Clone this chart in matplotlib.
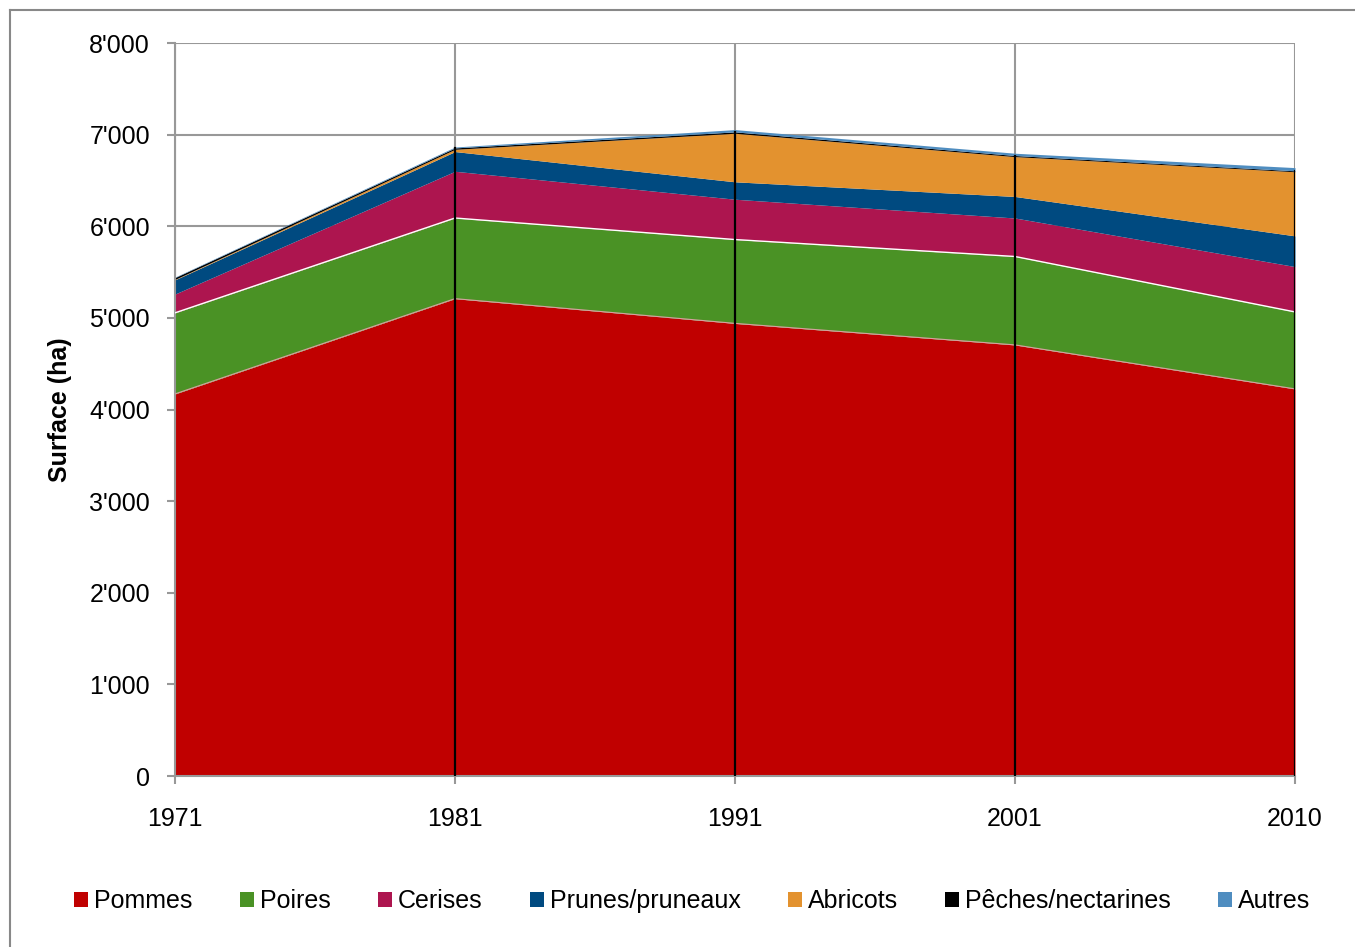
import matplotlib
matplotlib.use('Agg')
import matplotlib.pyplot as plt
import numpy as np
from matplotlib.patches import Patch
from matplotlib.lines import Line2D
from matplotlib.ticker import FuncFormatter

plt.rcParams['font.family'] = ['Liberation Sans', 'DejaVu Sans']

# surface (ha) per fruit type
YEARS = ['1971', '1981', '1991', '2001', '2010']
POMMES = [4170, 5210, 4940, 4705, 4225]
POIRES = [885, 880, 915, 965, 840]
CERISES = [205, 510, 440, 420, 495]
PRUNES = [155, 215, 190, 235, 335]
ABRICOTS = [5, 25, 530, 435, 700]
PECHES = [20, 15, 15, 12, 10]
AUTRES = [5, 10, 25, 25, 35]

NAMES = ['Pommes', 'Poires', 'Cerises', 'Prunes/pruneaux', 'Abricots',
         'Pêches/nectarines', 'Autres']
COLORS = ['#C00000', '#4A9225', '#AD154F', '#004A80', '#E3922F', '#000000', '#4F8DC0']
SERIES = [POMMES, POIRES, CERISES, PRUNES, ABRICOTS, PECHES, AUTRES]

GRID = '#989898'

fig = plt.figure(figsize=(13.55, 9.47), dpi=100)
ax = fig.add_axes([175 / 1355, 1 - 776 / 947, 1120 / 1355, 733 / 947])

x = np.arange(len(YEARS))
stack = np.cumsum(np.array(SERIES, dtype=float), axis=0)
base = np.zeros(len(YEARS))
for i, top in enumerate(stack):
    ax.fill_between(x, base, top, color=COLORS[i], lw=0, zorder=2)
    base = top

# thin separators seen in the original
ax.plot(x, stack[0], color='#D8A0A0', lw=0.8, zorder=3)
ax.plot(x, stack[1], color='white', lw=1.0, zorder=3)

# drop lines
for xi in x[1:]:
    ax.plot([xi, xi], [0, stack[-2][xi]], color='black', lw=1.6, zorder=4)

ax.set_xlim(0, len(YEARS) - 1)
ax.set_ylim(0, 8000)
ax.set_xticks(x)
ax.set_xticklabels(YEARS)
ax.set_yticks(np.arange(0, 8001, 1000))
ax.yaxis.set_major_formatter(FuncFormatter(lambda v, p: '{:,.0f}'.format(v).replace(',', "'")))

ax.grid(True, color=GRID, lw=1.5, zorder=1)
ax.set_axisbelow(True)
for s in ['top', 'right']:
    ax.spines[s].set_visible(False)
for s in ['left', 'bottom']:
    ax.spines[s].set_color(GRID)
    ax.spines[s].set_linewidth(1.5)

ax.tick_params(axis='y', colors=GRID, labelcolor='black', labelsize=18, length=6, width=1.5, pad=12)
ax.tick_params(axis='x', colors=GRID, labelcolor='black', labelsize=18, length=6, width=1.5, pad=16)

ax.set_ylabel('Surface (ha)', fontsize=18, fontweight='bold')
ax.yaxis.set_label_coords(-0.092, 0.5)

handles = [Patch(facecolor=c, edgecolor='none') for c in COLORS]
fig.legend(handles, NAMES, loc='center', bbox_to_anchor=(0.511, 1 - 901 / 947),
           ncol=7, frameon=False, fontsize=18, handlelength=0.56, handleheight=0.56,
           handletextpad=0.25, columnspacing=1.88, borderaxespad=0)

# outer chart border (top and left visible)
fig.add_artist(Line2D([10 / 1355, 1.0], [1 - 10 / 947, 1 - 10 / 947], color='#888888', lw=1.5,
                      transform=fig.transFigure))
fig.add_artist(Line2D([10 / 1355, 10 / 1355], [0.0, 1 - 10 / 947], color='#888888', lw=1.5,
                      transform=fig.transFigure))

fig.savefig('out.png', dpi=100)
